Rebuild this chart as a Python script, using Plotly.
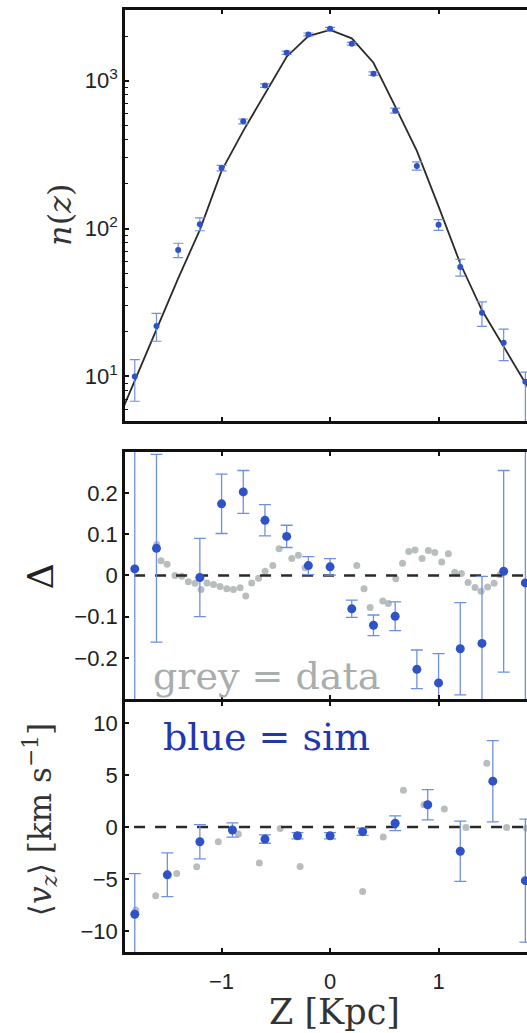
import plotly.graph_objects as go

# ---- vertical density n(z): simulated counts with error bars and model curve ----
z_n = [-1.8, -1.6, -1.4, -1.2, -1.0, -0.8, -0.6, -0.4, -0.2, 0.0,
       0.2, 0.4, 0.6, 0.8, 1.0, 1.2, 1.4, 1.6, 1.8]
n_sim = [10.0, 21.9, 71.5, 107, 256, 530, 925, 1542, 2051, 2240,
         1774, 1114, 627, 265, 106, 55, 27, 16.9, 9.2]
n_err_up = [3.0, 4.8, 8.0, 11, 11, 20, 25, 40, 45, 50,
            40, 30, 25, 17, 9, 7, 4.9, 4.0, 1.5]
n_err_down = [3.2, 4.6, 8.0, 10.4, 11, 20, 25, 40, 45, 50,
              40, 30, 25, 17, 9, 7.4, 5.2, 4.1, 4.5]

z_model = [-1.9, -1.8, -1.6, -1.4, -1.2, -1.0, -0.8, -0.6, -0.4, -0.2, 0.0,
           0.2, 0.4, 0.6, 0.8, 1.0, 1.2, 1.4, 1.6, 1.8, 1.9]
n_model = [6.3, 9.4, 21, 46, 98, 245, 457, 810, 1450, 2000, 2200,
           1930, 1320, 670, 335, 141, 58, 28, 15.8, 8.9, 6.8]

# ---- residual Delta ----
z_delta = [-1.8, -1.6, -1.2, -1.0, -0.8, -0.6, -0.4, -0.2, 0.0,
           0.2, 0.4, 0.6, 0.8, 1.0, 1.2, 1.4, 1.6, 1.8]
delta_sim = [0.016, 0.066, -0.005, 0.174, 0.203, 0.134, 0.095, 0.024, 0.021,
             -0.081, -0.121, -0.099, -0.228, -0.261, -0.178, -0.165, 0.010, -0.018]
delta_err = [0.6, 0.228, 0.095, 0.072, 0.052, 0.038, 0.027, 0.022, 0.02,
             0.021, 0.025, 0.035, 0.047, 0.071, 0.112, 0.163, 0.245, 0.6]

z_delta_data = [-1.597, -1.558, -1.502, -1.429, -1.367, -1.306, -1.244, -1.189,
                -1.134, -1.074, -1.014, -0.952, -0.891, -0.829, -0.777, -0.722,
                -0.659, -0.599, -0.528, -0.470, -0.353, -0.292, -0.230,
                0.246, 0.313, 0.369, 0.486, 0.537, 0.606, 0.668, 0.725, 0.783,
                0.848, 0.906, 0.965, 1.029, 1.090, 1.149, 1.210, 1.272, 1.336,
                1.392, 1.452, 1.512, 1.567]
delta_data = [0.075, 0.036, 0.027, 0.000, -0.002, -0.015, -0.019, -0.034,
              -0.018, -0.022, -0.027, -0.032, -0.034, -0.030, -0.050, -0.018,
              -0.007, 0.010, 0.024, 0.065, 0.041, 0.049, 0.019,
              0.024, -0.032, -0.078, -0.062, -0.068, -0.008, 0.030, 0.058, 0.062,
              0.041, 0.061, 0.056, 0.033, 0.053, 0.008, 0.005, -0.017, -0.029,
              -0.038, -0.028, -0.019, 0.002]

# ---- mean vertical velocity <v_z> ----
z_vz = [-1.8, -1.5, -1.2, -0.9, -0.6, -0.3, 0.0, 0.3, 0.6, 0.9, 1.2, 1.5, 1.8]
vz_sim = [-8.38, -4.59, -1.42, -0.29, -1.16, -0.84, -0.84, -0.45, 0.36,
          2.14, -2.33, 4.40, -5.15]
vz_err = [3.9, 2.1, 1.65, 0.68, 0.4, 0.3, 0.3, 0.35, 0.7, 1.45, 2.9, 3.9, 5.9]

z_vz_data = [-1.79, -1.607, -1.413, -1.229, -1.03, -0.845, -0.652, -0.46, -0.276,
             0.30, 0.49, 0.676, 0.866, 1.053, 1.253, 1.444, 1.628, 1.81]
vz_data = [-7.96, -6.6, -4.47, -3.82, -1.42, -0.68, -3.46, -0.15, -3.79,
           -6.2, -0.95, 3.52, 2.14, 1.72, -0.06, 6.12, -0.06, -0.13]

zero_x = [-2.0, 2.0]
zero_y = [0, 0]

BLUE = "#2f52c6"
BLUE_ERR = "#6f8fe3"
GREY = "#b8bebe"
TICK_FONT = dict(family="Liberation Sans, Arial, sans-serif", size=22, color="#222222")
SERIF = "DejaVu Serif, Liberation Serif, serif"

fig = go.Figure()

# top panel
fig.add_trace(go.Scatter(x=z_model, y=n_model, mode="lines",
                         line=dict(color="#2a2a2a", width=1.8),
                         xaxis="x", yaxis="y", showlegend=False))
fig.add_trace(go.Scatter(x=z_n, y=n_sim, mode="markers",
                         marker=dict(color=BLUE, size=6),
                         error_y=dict(type="data", symmetric=False, array=n_err_up,
                                      arrayminus=n_err_down, color=BLUE_ERR,
                                      thickness=1.2, width=5),
                         xaxis="x", yaxis="y", showlegend=False))

# middle panel
fig.add_trace(go.Scatter(x=z_delta_data, y=delta_data, mode="markers",
                         marker=dict(color=GREY, size=7),
                         xaxis="x2", yaxis="y2", showlegend=False))
fig.add_trace(go.Scatter(x=zero_x, y=zero_y, mode="lines",
                         line=dict(color="#2a2a2a", width=2.5, dash="11px,10px"),
                         xaxis="x2", yaxis="y2", showlegend=False))
fig.add_trace(go.Scatter(x=z_delta, y=delta_sim, mode="markers",
                         marker=dict(color=BLUE, size=9),
                         error_y=dict(type="data", array=delta_err, color=BLUE_ERR,
                                      thickness=1.3, width=6),
                         xaxis="x2", yaxis="y2", showlegend=False))

# bottom panel
fig.add_trace(go.Scatter(x=z_vz_data, y=vz_data, mode="markers",
                         marker=dict(color=GREY, size=7),
                         xaxis="x3", yaxis="y3", showlegend=False))
fig.add_trace(go.Scatter(x=zero_x, y=zero_y, mode="lines",
                         line=dict(color="#2a2a2a", width=2.5, dash="11px,10px"),
                         xaxis="x3", yaxis="y3", showlegend=False))
fig.add_trace(go.Scatter(x=z_vz, y=vz_sim, mode="markers",
                         marker=dict(color=BLUE, size=9),
                         error_y=dict(type="data", array=vz_err, color=BLUE_ERR,
                                      thickness=1.3, width=6),
                         xaxis="x3", yaxis="y3", showlegend=False))

xcommon = dict(range=[-1.89, 1.815], showline=True, linecolor="#111111", linewidth=2.6,
               mirror="ticks", ticks="inside", ticklen=4, tickwidth=2, tickcolor="#111111",
               tickvals=[-1, 0, 1], showgrid=False, zeroline=False, tickfont=TICK_FONT)
ycommon = dict(showline=True, linecolor="#111111", linewidth=2.6, mirror=False,
               ticks="inside", ticklen=4, tickwidth=1.5, tickcolor="#111111",
               showgrid=False, zeroline=False, tickfont=TICK_FONT)

fig.update_layout(
    width=527, height=1033,
    margin=dict(l=125, r=0, t=10, b=81),
    paper_bgcolor="white", plot_bgcolor="white",
    xaxis=dict(xcommon, domain=[0, 1], anchor="y", showticklabels=False),
    yaxis=dict(ycommon, domain=[0.5637, 1.0], anchor="x", type="log",
               range=[0.699, 3.477], tickvals=[10, 100, 1000],
               ticktext=["10<sup>1</sup>", "10<sup>2</sup>", "10<sup>3</sup>"],
               minor=dict(ticks="inside", ticklen=3, tickwidth=1, tickcolor="#111111",
                          dtick="D1", showgrid=False)),
    xaxis2=dict(xcommon, domain=[0, 1], anchor="y2", showticklabels=False),
    yaxis2=dict(ycommon, domain=[0.2686, 0.5308], anchor="x2", range=[-0.3, 0.3],
                tickvals=[-0.2, -0.1, 0, 0.1, 0.2],
                ticktext=["\u22120.2", "\u22120.1", "0", "0.1", "0.2"]),
    xaxis3=dict(xcommon, domain=[0, 1], anchor="y3", showticklabels=True,
                ticktext=["\u22121", "0", "1"], ticklabelstandoff=8),
    yaxis3=dict(ycommon, domain=[0.0, 0.2654], anchor="x3", range=[-12, 12],
                tickvals=[-10, -5, 0, 5, 10],
                ticktext=["\u221210", "\u22125", "0", "5", "10"]),
)

ann = [
    dict(text="<i>n</i>(<i>z</i>)", x=-0.1617, y=0.7824, textangle=-90,
         font=dict(family=SERIF, size=32, color="#333333")),
    dict(text="\u0394", x=-0.2114, y=0.399, textangle=-90,
         font=dict(family=SERIF, size=36, color="#222222")),
    dict(text="\u27e8<i>v<sub>z</sub></i>\u27e9 [km s<sup>\u22121</sup>]", x=-0.2114, y=0.140,
         textangle=-90, font=dict(family=SERIF, size=31, color="#333333")),
    dict(text="Z [Kpc]", x=0.522, y=-0.0637,
         font=dict(family=SERIF, size=35, color="#333333")),
    dict(text="grey = data", x=0.352, y=0.293,
         font=dict(family=SERIF, size=38, color="#a8adad")),
    dict(text="blue = sim", x=0.352, y=0.228,
         font=dict(family=SERIF, size=38, color="#1f38b0")),
]
for a in ann:
    fig.add_annotation(xref="paper", yref="paper", showarrow=False,
                       xanchor="center", yanchor="middle", **a)

fig.write_html("out.html")
